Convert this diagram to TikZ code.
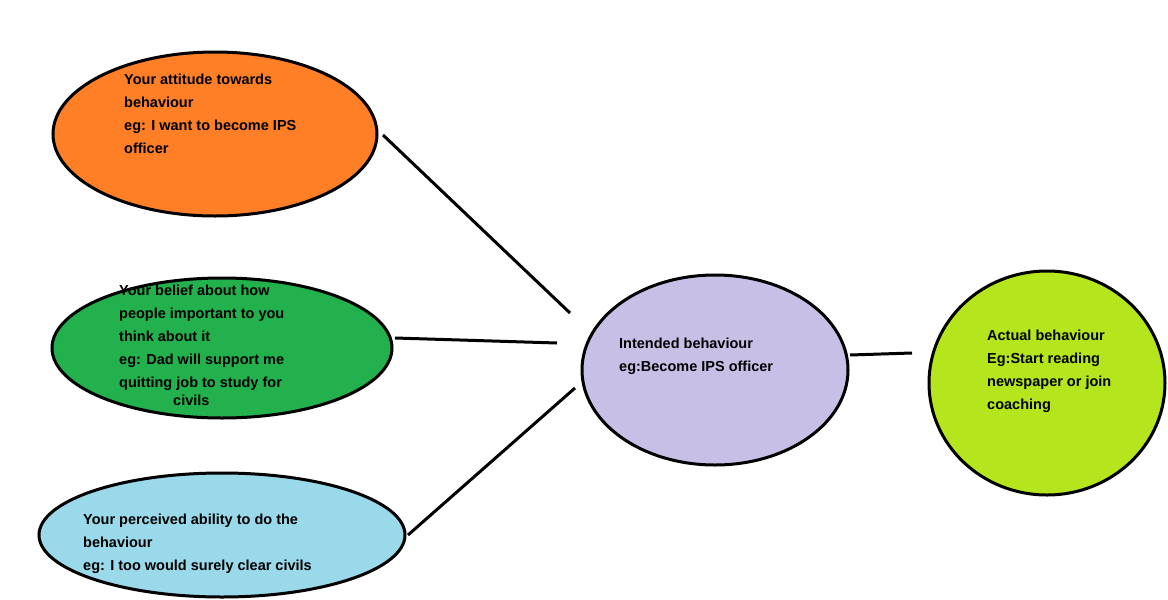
\documentclass[tikz,border=0pt]{standalone}
\usepackage{fontspec}
\setmainfont{Liberation Sans}
\begin{document}
\begin{tikzpicture}[x=1pt,y=-1pt,
  ell/.style={draw=black,line width=3pt},
  txt/.style={anchor=north west,align=left,font=\bfseries\fontsize{14.5}{23}\selectfont,inner sep=0pt},
  conn/.style={line width=3pt}]
\useasboundingbox (0,0) rectangle (1168,600);
\definecolor{corange}{HTML}{FF7F27}
\definecolor{cgreen}{HTML}{22B14C}
\definecolor{cblue}{HTML}{99D9EA}
\definecolor{cpurple}{HTML}{C8BFE7}
\definecolor{clime}{HTML}{B5E61D}
\filldraw[ell,fill=corange] (215,134) ellipse [x radius=162,y radius=82];
\filldraw[ell,fill=cgreen] (222,348) ellipse [x radius=170,y radius=70];
\filldraw[ell,fill=cblue] (222,535) ellipse [x radius=183,y radius=62];
\filldraw[ell,fill=cpurple] (715,370) ellipse [x radius=133,y radius=95];
\filldraw[ell,fill=clime] (1047,383) ellipse [x radius=118,y radius=112];
\node[txt] (t1) at (124,74) {Your attitude towards\\behaviour\\eg: I want to become IPS\\officer};
\node[txt] (t2) at (119,285) {Your belief about how\\people important to you\\think about it\\eg: Dad will support me\\quitting job to study for};
\node[txt] (t2b) at (173,395) {civils};
\node[txt] (t3) at (83,514) {Your perceived ability to do the\\behaviour\\eg: I too would surely clear civils};
\node[txt] (t4) at (619,338) {Intended behaviour\\eg:Become IPS officer};
\node[txt] (t5) at (987,330) {Actual behaviour\\Eg:Start reading\\newspaper or join\\coaching};
\coordinate (a1) at (383,135); \coordinate (b1) at (570,313);
\coordinate (a2) at (395,338); \coordinate (b2) at (557,343);
\coordinate (a3) at (408,535); \coordinate (b3) at (575,388);
\coordinate (a4) at (850,355); \coordinate (b4) at (912,353);
\draw[conn] (a1) -- (b1);
\draw[conn] (a2) -- (b2);
\draw[conn] (a3) -- (b3);
\draw[conn] (a4) -- (b4);
\end{tikzpicture}
\end{document}
